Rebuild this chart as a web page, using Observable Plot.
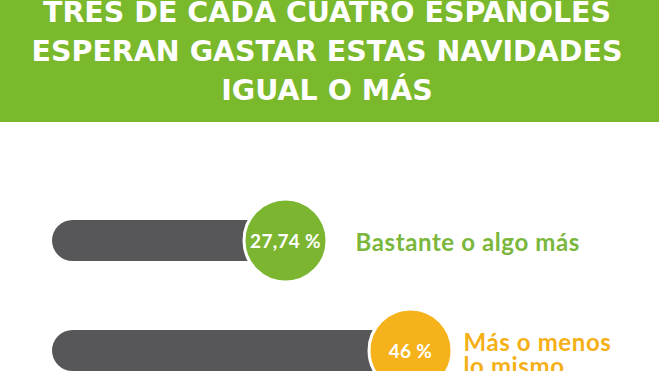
<!DOCTYPE html>
<html>
<head>
<meta charset="utf-8">
<script src="https://cdn.jsdelivr.net/npm/d3@7"></script>
<script src="https://cdn.jsdelivr.net/npm/@observablehq/plot@0.6"></script>
<style>
  html, body { margin: 0; padding: 0; background: #ffffff; width: 659px; height: 371px; overflow: hidden; }
  #header {
    background: #7ab82c; height: 122px; overflow: hidden; color: #ffffff;
    font-family: "DejaVu Sans", sans-serif; font-weight: 700; font-size: 28.5px; line-height: 39px;
    text-align: center; box-sizing: border-box;
  }
  #header .inner { margin-top: -7px; margin-left: -5px; white-space: nowrap; }
  #chart svg { display: block; }
</style>
</head>
<body>
<div id="header"><div class="inner">
  <div>TRES DE CADA CUATRO ESPAÑOLES</div>
  <div>ESPERAN GASTAR ESTAS NAVIDADES</div>
  <div>IGUAL O MÁS</div>
</div></div>
<div id="chart"></div>
<script>
const categories = ["Bastante o algo más", "Más o menos\nlo mismo"];
const values = [27.74, 46];
const valueLabels = ["27,74 %", "46 %"];
const colors = ["#7cb631", "#f6b21a"];
const labelColors = ["#7ab73c", "#f4b016"];

const data = categories.map((c, i) => ({
  category: c, value: values[i], label: valueLabels[i], color: colors[i], labelColor: labelColors[i], i
}));
const BAR_START = -3.3;
const font = "Lato, sans-serif";

const chart = Plot.plot({
  width: 659,
  height: 249,
  margin: 0,
  x: {type: "linear", domain: [0, 50], range: [95.1, 437.4], axis: null},
  y: {type: "point", domain: categories, range: [117.5, 227.5], padding: 0, axis: null},
  color: {type: "identity"},
  style: {fontFamily: font, background: "transparent"},
  marks: [
    Plot.ruleY(data, {y: "category", x1: BAR_START, x2: "value", stroke: "#575759", strokeWidth: 41, strokeLinecap: "round"}),
    Plot.dot(data, {x: "value", y: "category", r: 41.5, fill: "color", stroke: "#ffffff", strokeWidth: 3}),
    Plot.text(data, {x: "value", y: "category", text: "label", fill: "#ffffff", fontSize: 19, fontWeight: 700, dy: 1}),
    Plot.text(data.filter(d => d.i === 0), {x: "value", y: "category", text: "category", fill: "labelColor", fontSize: 24, fontWeight: 700, textAnchor: "start", dx: 70, dy: 3}),
    Plot.text(data.filter(d => d.i === 1), {x: "value", y: "category", text: "category", fill: "labelColor", fontSize: 24, fontWeight: 700, textAnchor: "start", dx: 53, dy: -17, lineAnchor: "top", lineHeight: 1.02})
  ]
});
chart.querySelectorAll("text").forEach(t => {
  const fs = t.closest("[font-size]");
  if (fs && fs.getAttribute("font-size") === "24") t.style.letterSpacing = "0.6px";
  if (fs && fs.getAttribute("font-size") === "19") t.style.letterSpacing = "0.3px";
});
document.getElementById("chart").appendChild(chart);
</script>
</body>
</html>
